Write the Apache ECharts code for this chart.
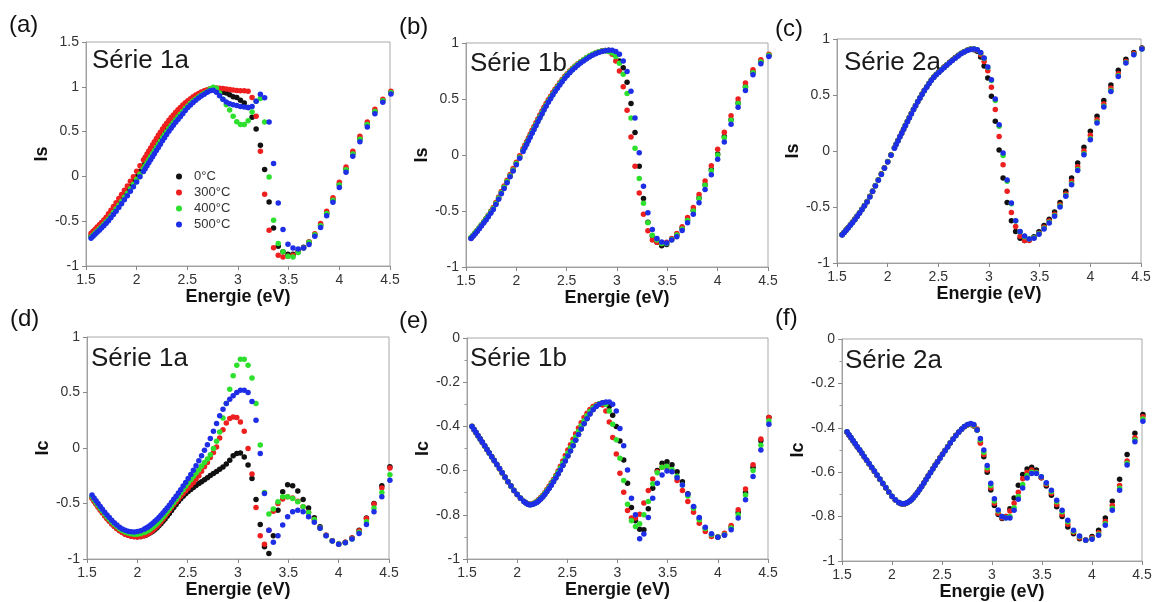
<!DOCTYPE html>
<html><head><meta charset="utf-8">
<script src="https://cdn.jsdelivr.net/npm/echarts@6/dist/echarts.min.js"></script>
<style>html,body{margin:0;padding:0;background:#fff}#c{width:1156px;height:602px}</style>
</head><body><div id="c"></div><script>
// photon energy grid (eV), shared by all panels
const energy = [
1.550,1.570,1.590,1.610,1.632,1.653,1.676,1.699,1.722,1.746,
1.771,1.797,1.824,1.851,1.879,1.908,1.938,1.968,2.000,2.033,
2.067,2.084,2.102,2.120,2.138,2.157,2.175,2.195,2.214,2.234,
2.255,2.275,2.296,2.318,2.340,2.362,2.385,2.408,2.431,2.455,
2.480,2.505,2.531,2.557,2.583,2.611,2.638,2.667,2.696,2.725,
2.756,2.787,2.818,2.851,2.884,2.918,2.952,2.988,3.024,3.062,
3.100,3.139,3.179,3.221,3.263,3.307,3.351,3.397,3.444,3.493,
3.543,3.594,3.647,3.701,3.758,3.815,3.875,3.937,4.000,4.066,
4.133,4.203,4.276,4.351,4.429,4.509];

const seriesNames = ['0°C','300°C','400°C','500°C'];
const panelLetters = ['(a)','(b)','(c)','(d)','(e)','(f)'];
const panelTitles = ['Série 1a','Série 1b','Série 2a','Série 1a','Série 1b','Série 2a'];
const yNames = ['Is','Is','Is','Ic','Ic','Ic'];
const xName = 'Energie (eV)';
const xTicks = [1.5,2,2.5,3,3.5,4,4.5];
const yTicksA = [-1,-0.5,0,0.5,1,1.5];
const yTicksIs = [-1,-0.5,0,0.5,1];
const yTicksIc = [-1,-0.8,-0.6,-0.4,-0.2,0];

// (a) Is, Série 1a
const aBlack = [
-0.663,-0.640,-0.618,-0.595,-0.570,-0.545,-0.519,-0.490,-0.457,-0.420,
-0.382,-0.341,-0.298,-0.254,-0.208,-0.161,-0.111,-0.060,-0.003,0.057,
0.119,0.151,0.185,0.218,0.252,0.287,0.321,0.357,0.391,0.427,
0.464,0.497,0.531,0.565,0.597,0.628,0.660,0.690,0.719,0.748,
0.778,0.807,0.833,0.858,0.880,0.901,0.920,0.937,0.953,0.967,
0.975,0.960,0.950,0.940,0.930,0.910,0.890,0.880,0.850,0.820,
0.770,0.660,0.530,0.347,0.076,-0.286,-0.576,-0.780,-0.840,-0.870,
-0.870,-0.830,-0.790,-0.735,-0.650,-0.545,-0.410,-0.260,-0.090,0.080,
0.255,0.420,0.580,0.725,0.845,0.935];
const aRed = [
-0.635,-0.612,-0.589,-0.566,-0.540,-0.514,-0.487,-0.455,-0.418,-0.378,
-0.337,-0.293,-0.248,-0.202,-0.155,-0.106,-0.055,-0.003,0.057,0.119,
0.183,0.215,0.250,0.284,0.318,0.354,0.388,0.424,0.458,0.494,
0.530,0.562,0.594,0.626,0.656,0.685,0.715,0.743,0.770,0.796,
0.821,0.845,0.868,0.889,0.908,0.926,0.942,0.956,0.968,0.978,
0.985,0.988,0.985,0.980,0.975,0.970,0.965,0.960,0.957,0.955,
0.950,0.880,0.670,0.280,-0.200,-0.600,-0.795,-0.880,-0.900,-0.890,
-0.880,-0.840,-0.800,-0.730,-0.640,-0.527,-0.390,-0.237,-0.066,0.105,
0.280,0.447,0.607,0.749,0.860,0.950];
const aGreen = [
-0.676,-0.654,-0.632,-0.610,-0.585,-0.561,-0.534,-0.507,-0.477,-0.441,
-0.404,-0.364,-0.322,-0.279,-0.234,-0.188,-0.138,-0.088,-0.032,0.026,
0.087,0.118,0.152,0.185,0.218,0.254,0.287,0.323,0.357,0.393,
0.430,0.465,0.499,0.534,0.567,0.599,0.632,0.663,0.693,0.724,
0.757,0.787,0.816,0.842,0.865,0.888,0.908,0.928,0.946,0.975,
0.995,0.985,0.930,0.860,0.800,0.740,0.670,0.610,0.580,0.580,
0.620,0.720,0.840,0.870,0.607,-0.007,-0.490,-0.750,-0.840,-0.890,
-0.900,-0.850,-0.800,-0.735,-0.650,-0.550,-0.415,-0.265,-0.095,0.075,
0.250,0.415,0.580,0.725,0.845,0.935];
const aBlue = [
-0.690,-0.668,-0.646,-0.624,-0.600,-0.576,-0.550,-0.524,-0.496,-0.462,
-0.426,-0.388,-0.347,-0.305,-0.261,-0.215,-0.166,-0.116,-0.062,-0.005,
0.055,0.086,0.119,0.152,0.185,0.220,0.253,0.289,0.323,0.359,
0.397,0.432,0.467,0.503,0.537,0.570,0.604,0.636,0.667,0.700,
0.735,0.768,0.798,0.826,0.851,0.875,0.897,0.918,0.938,0.955,
0.962,0.940,0.900,0.860,0.830,0.810,0.800,0.790,0.780,0.775,
0.770,0.780,0.840,0.916,0.879,0.607,0.143,-0.297,-0.594,-0.758,
-0.800,-0.810,-0.800,-0.760,-0.668,-0.570,-0.440,-0.289,-0.125,0.046,
0.224,0.388,0.551,0.700,0.827,0.920];

// (b) Is, Série 1b
const bBlack = [
-0.742,-0.722,-0.700,-0.678,-0.654,-0.628,-0.601,-0.573,-0.543,-0.512,
-0.478,-0.433,-0.386,-0.338,-0.288,-0.237,-0.185,-0.133,-0.077,-0.018,
0.042,0.073,0.105,0.138,0.170,0.205,0.237,0.273,0.307,0.342,
0.378,0.412,0.445,0.480,0.512,0.544,0.576,0.606,0.635,0.663,
0.691,0.716,0.741,0.765,0.786,0.807,0.826,0.845,0.863,0.879,
0.894,0.907,0.918,0.927,0.933,0.935,0.920,0.890,0.840,0.780,
0.650,0.460,0.200,-0.100,-0.388,-0.600,-0.720,-0.780,-0.810,-0.800,
-0.755,-0.715,-0.655,-0.580,-0.495,-0.385,-0.265,-0.130,0.010,0.165,
0.315,0.465,0.610,0.740,0.835,0.890];
const bRed = [
-0.740,-0.719,-0.697,-0.674,-0.649,-0.623,-0.595,-0.566,-0.535,-0.503,
-0.468,-0.423,-0.375,-0.327,-0.277,-0.226,-0.174,-0.121,-0.065,-0.006,
0.055,0.087,0.119,0.152,0.185,0.220,0.252,0.288,0.322,0.357,
0.392,0.426,0.459,0.493,0.525,0.557,0.588,0.617,0.646,0.674,
0.701,0.726,0.750,0.773,0.794,0.814,0.833,0.851,0.868,0.884,
0.898,0.911,0.922,0.930,0.933,0.925,0.900,0.840,0.750,0.610,
0.400,0.160,-0.100,-0.340,-0.530,-0.677,-0.760,-0.780,-0.790,-0.780,
-0.745,-0.700,-0.640,-0.558,-0.468,-0.352,-0.233,-0.096,0.051,0.203,
0.350,0.499,0.642,0.761,0.850,0.900];
const bGreen = [
-0.736,-0.716,-0.695,-0.673,-0.649,-0.624,-0.598,-0.570,-0.541,-0.510,
-0.477,-0.432,-0.385,-0.337,-0.288,-0.237,-0.185,-0.133,-0.077,-0.019,
0.041,0.072,0.104,0.137,0.169,0.204,0.236,0.272,0.306,0.341,
0.377,0.411,0.445,0.480,0.513,0.545,0.577,0.607,0.636,0.665,
0.693,0.719,0.744,0.768,0.790,0.811,0.831,0.850,0.868,0.885,
0.899,0.911,0.921,0.928,0.930,0.925,0.910,0.880,0.820,0.720,
0.550,0.330,0.060,-0.210,-0.430,-0.606,-0.716,-0.760,-0.790,-0.790,
-0.755,-0.715,-0.660,-0.585,-0.500,-0.390,-0.270,-0.140,0.000,0.155,
0.310,0.460,0.605,0.735,0.830,0.890];
const bBlue = [
-0.746,-0.726,-0.705,-0.683,-0.659,-0.634,-0.608,-0.580,-0.551,-0.520,
-0.487,-0.442,-0.395,-0.347,-0.298,-0.247,-0.195,-0.143,-0.087,-0.029,
0.031,0.062,0.094,0.127,0.159,0.194,0.226,0.262,0.296,0.331,
0.367,0.401,0.435,0.470,0.503,0.535,0.567,0.597,0.626,0.655,
0.683,0.709,0.734,0.758,0.780,0.801,0.821,0.840,0.858,0.875,
0.890,0.903,0.915,0.924,0.931,0.935,0.935,0.925,0.900,0.840,
0.745,0.570,0.330,0.020,-0.278,-0.516,-0.666,-0.746,-0.776,-0.785,
-0.760,-0.730,-0.675,-0.606,-0.528,-0.427,-0.307,-0.176,-0.039,0.116,
0.275,0.427,0.576,0.716,0.815,0.880];

// (c) Is, Série 2a
const cBlack = [
-0.745,-0.725,-0.704,-0.683,-0.659,-0.635,-0.608,-0.580,-0.551,-0.519,
-0.486,-0.450,-0.405,-0.357,-0.308,-0.257,-0.204,-0.150,-0.093,-0.033,
0.030,0.062,0.095,0.129,0.162,0.197,0.230,0.266,0.300,0.336,
0.373,0.407,0.442,0.476,0.510,0.542,0.574,0.605,0.635,0.661,
0.685,0.707,0.728,0.749,0.770,0.792,0.813,0.834,0.854,0.873,
0.889,0.902,0.910,0.905,0.890,0.840,0.760,0.652,0.488,0.265,
0.010,-0.240,-0.459,-0.622,-0.718,-0.780,-0.800,-0.790,-0.765,-0.720,
-0.665,-0.610,-0.545,-0.459,-0.360,-0.240,-0.107,0.033,0.176,0.310,
0.452,0.590,0.720,0.820,0.880,0.920];
const cRed = [
-0.747,-0.727,-0.706,-0.685,-0.661,-0.637,-0.610,-0.582,-0.553,-0.521,
-0.488,-0.452,-0.407,-0.359,-0.310,-0.259,-0.206,-0.152,-0.095,-0.035,
0.028,0.060,0.093,0.127,0.160,0.195,0.228,0.264,0.298,0.334,
0.371,0.405,0.440,0.474,0.508,0.540,0.572,0.603,0.633,0.659,
0.683,0.705,0.726,0.747,0.768,0.790,0.811,0.832,0.852,0.871,
0.887,0.900,0.908,0.910,0.900,0.860,0.800,0.717,0.570,0.370,
0.130,-0.122,-0.360,-0.548,-0.673,-0.762,-0.800,-0.800,-0.775,-0.735,
-0.680,-0.625,-0.565,-0.480,-0.385,-0.270,-0.140,0.000,0.140,0.280,
0.420,0.560,0.690,0.800,0.870,0.915];
const cGreen = [
-0.748,-0.728,-0.707,-0.686,-0.662,-0.638,-0.611,-0.583,-0.554,-0.522,
-0.489,-0.453,-0.408,-0.360,-0.311,-0.260,-0.207,-0.153,-0.096,-0.036,
0.027,0.059,0.092,0.126,0.159,0.194,0.227,0.263,0.297,0.333,
0.370,0.404,0.439,0.473,0.507,0.539,0.571,0.602,0.632,0.658,
0.682,0.704,0.725,0.746,0.767,0.789,0.810,0.831,0.851,0.870,
0.886,0.899,0.908,0.912,0.905,0.875,0.825,0.745,0.630,0.450,
0.220,-0.040,-0.270,-0.470,-0.625,-0.720,-0.765,-0.785,-0.775,-0.738,
-0.690,-0.636,-0.575,-0.492,-0.397,-0.292,-0.165,-0.025,0.110,0.258,
0.400,0.540,0.672,0.790,0.862,0.910];
const cBlue = [
-0.750,-0.730,-0.709,-0.688,-0.664,-0.640,-0.613,-0.585,-0.556,-0.524,
-0.491,-0.455,-0.410,-0.362,-0.313,-0.262,-0.209,-0.155,-0.098,-0.038,
0.025,0.057,0.090,0.124,0.157,0.192,0.225,0.261,0.295,0.331,
0.368,0.402,0.437,0.471,0.505,0.537,0.569,0.600,0.630,0.656,
0.680,0.702,0.723,0.744,0.765,0.787,0.808,0.829,0.849,0.868,
0.884,0.897,0.906,0.911,0.905,0.880,0.830,0.750,0.637,0.464,
0.235,-0.018,-0.260,-0.464,-0.622,-0.718,-0.760,-0.785,-0.780,-0.743,
-0.697,-0.643,-0.583,-0.500,-0.405,-0.301,-0.173,-0.033,0.101,0.250,
0.393,0.532,0.666,0.786,0.860,0.910];

// (d) Ic, Série 1a
const dBlack = [
-0.445,-0.472,-0.499,-0.525,-0.553,-0.579,-0.606,-0.632,-0.657,-0.681,
-0.704,-0.725,-0.744,-0.760,-0.774,-0.785,-0.793,-0.798,-0.800,-0.798,
-0.790,-0.785,-0.778,-0.769,-0.759,-0.747,-0.734,-0.718,-0.701,-0.682,
-0.661,-0.639,-0.615,-0.590,-0.564,-0.537,-0.510,-0.483,-0.458,-0.434,
-0.412,-0.392,-0.373,-0.355,-0.338,-0.320,-0.303,-0.285,-0.267,-0.248,
-0.230,-0.212,-0.192,-0.172,-0.145,-0.110,-0.070,-0.050,-0.044,-0.080,
-0.154,-0.274,-0.463,-0.690,-0.890,-0.950,-0.790,-0.560,-0.394,-0.330,
-0.340,-0.388,-0.463,-0.540,-0.628,-0.710,-0.785,-0.835,-0.865,-0.850,
-0.810,-0.740,-0.630,-0.500,-0.340,-0.170];
const dRed = [
-0.455,-0.481,-0.507,-0.533,-0.560,-0.586,-0.612,-0.637,-0.661,-0.684,
-0.706,-0.727,-0.746,-0.762,-0.776,-0.787,-0.795,-0.800,-0.802,-0.799,
-0.790,-0.783,-0.775,-0.765,-0.753,-0.739,-0.724,-0.706,-0.687,-0.665,
-0.641,-0.617,-0.590,-0.563,-0.536,-0.510,-0.485,-0.460,-0.435,-0.410,
-0.385,-0.360,-0.335,-0.310,-0.280,-0.250,-0.210,-0.170,-0.130,-0.085,
-0.040,0.010,0.090,0.165,0.225,0.265,0.280,0.275,0.235,0.150,
-0.004,-0.235,-0.535,-0.790,-0.868,-0.740,-0.570,-0.500,-0.460,-0.440,
-0.450,-0.480,-0.530,-0.580,-0.645,-0.720,-0.785,-0.835,-0.865,-0.850,
-0.810,-0.745,-0.635,-0.505,-0.360,-0.180];
const dGreen = [
-0.438,-0.464,-0.490,-0.516,-0.543,-0.568,-0.594,-0.619,-0.643,-0.666,
-0.688,-0.708,-0.727,-0.743,-0.756,-0.766,-0.773,-0.777,-0.777,-0.772,
-0.762,-0.755,-0.746,-0.736,-0.724,-0.711,-0.697,-0.680,-0.662,-0.642,
-0.620,-0.597,-0.573,-0.547,-0.520,-0.492,-0.463,-0.434,-0.404,-0.375,
-0.345,-0.315,-0.285,-0.255,-0.225,-0.195,-0.163,-0.130,-0.100,-0.060,
-0.005,0.060,0.145,0.270,0.400,0.530,0.650,0.745,0.800,0.800,
0.745,0.630,0.400,0.026,-0.400,-0.595,-0.550,-0.485,-0.440,-0.440,
-0.455,-0.485,-0.530,-0.580,-0.645,-0.720,-0.790,-0.838,-0.865,-0.853,
-0.820,-0.760,-0.665,-0.540,-0.400,-0.240];
const dBlue = [
-0.424,-0.450,-0.476,-0.501,-0.527,-0.552,-0.578,-0.603,-0.627,-0.651,
-0.673,-0.694,-0.713,-0.729,-0.741,-0.750,-0.755,-0.756,-0.753,-0.745,
-0.732,-0.724,-0.714,-0.703,-0.690,-0.676,-0.661,-0.644,-0.626,-0.606,
-0.585,-0.563,-0.540,-0.515,-0.489,-0.462,-0.434,-0.405,-0.375,-0.343,
-0.310,-0.275,-0.238,-0.200,-0.160,-0.115,-0.070,-0.020,0.030,0.085,
0.150,0.220,0.290,0.350,0.400,0.440,0.470,0.500,0.520,0.520,
0.500,0.420,0.250,-0.050,-0.410,-0.740,-0.850,-0.790,-0.694,-0.620,
-0.575,-0.560,-0.575,-0.620,-0.670,-0.724,-0.790,-0.838,-0.868,-0.853,
-0.820,-0.770,-0.690,-0.575,-0.440,-0.290];

// (e) Ic, Série 1b
const eBlack = [
-0.399,-0.413,-0.427,-0.441,-0.456,-0.471,-0.487,-0.503,-0.519,-0.536,
-0.553,-0.571,-0.590,-0.609,-0.629,-0.649,-0.669,-0.689,-0.707,-0.724,
-0.739,-0.745,-0.750,-0.753,-0.753,-0.751,-0.748,-0.743,-0.736,-0.728,
-0.718,-0.707,-0.694,-0.680,-0.665,-0.649,-0.632,-0.614,-0.596,-0.576,
-0.555,-0.533,-0.510,-0.486,-0.462,-0.436,-0.411,-0.387,-0.364,-0.343,
-0.324,-0.309,-0.299,-0.293,-0.295,-0.310,-0.350,-0.400,-0.466,-0.552,
-0.657,-0.767,-0.827,-0.865,-0.868,-0.773,-0.680,-0.600,-0.567,-0.560,
-0.574,-0.605,-0.650,-0.705,-0.765,-0.818,-0.860,-0.890,-0.900,-0.890,
-0.855,-0.790,-0.700,-0.585,-0.465,-0.360];
const eRed = [
-0.402,-0.416,-0.430,-0.444,-0.459,-0.474,-0.490,-0.506,-0.522,-0.539,
-0.556,-0.574,-0.593,-0.612,-0.632,-0.652,-0.672,-0.691,-0.709,-0.726,
-0.740,-0.746,-0.750,-0.752,-0.752,-0.749,-0.745,-0.739,-0.731,-0.722,
-0.711,-0.700,-0.686,-0.671,-0.655,-0.640,-0.622,-0.602,-0.580,-0.556,
-0.532,-0.507,-0.483,-0.458,-0.433,-0.407,-0.383,-0.360,-0.340,-0.323,
-0.310,-0.302,-0.300,-0.303,-0.330,-0.380,-0.450,-0.525,-0.612,-0.698,
-0.780,-0.815,-0.815,-0.797,-0.747,-0.690,-0.638,-0.605,-0.585,-0.583,
-0.603,-0.645,-0.690,-0.740,-0.788,-0.838,-0.876,-0.898,-0.900,-0.883,
-0.848,-0.777,-0.683,-0.574,-0.457,-0.360];
const eGreen = [
-0.401,-0.415,-0.429,-0.443,-0.458,-0.473,-0.489,-0.505,-0.521,-0.538,
-0.555,-0.573,-0.592,-0.611,-0.631,-0.651,-0.671,-0.690,-0.708,-0.725,
-0.740,-0.746,-0.750,-0.753,-0.753,-0.750,-0.747,-0.741,-0.734,-0.725,
-0.715,-0.704,-0.690,-0.676,-0.660,-0.645,-0.627,-0.608,-0.588,-0.566,
-0.544,-0.520,-0.497,-0.472,-0.448,-0.422,-0.397,-0.374,-0.352,-0.333,
-0.317,-0.306,-0.298,-0.295,-0.300,-0.330,-0.390,-0.460,-0.544,-0.645,
-0.752,-0.827,-0.853,-0.840,-0.800,-0.740,-0.660,-0.610,-0.585,-0.580,
-0.595,-0.625,-0.665,-0.715,-0.770,-0.822,-0.862,-0.890,-0.900,-0.890,
-0.860,-0.800,-0.710,-0.600,-0.485,-0.375];
const eBlue = [
-0.400,-0.414,-0.428,-0.442,-0.457,-0.472,-0.488,-0.504,-0.520,-0.537,
-0.554,-0.572,-0.591,-0.610,-0.630,-0.650,-0.670,-0.690,-0.708,-0.725,
-0.740,-0.746,-0.751,-0.754,-0.754,-0.752,-0.749,-0.744,-0.737,-0.729,
-0.719,-0.708,-0.695,-0.681,-0.666,-0.650,-0.633,-0.615,-0.597,-0.577,
-0.556,-0.534,-0.511,-0.487,-0.463,-0.437,-0.412,-0.388,-0.365,-0.344,
-0.325,-0.310,-0.300,-0.293,-0.290,-0.290,-0.300,-0.330,-0.409,-0.487,
-0.597,-0.725,-0.800,-0.908,-0.887,-0.812,-0.725,-0.657,-0.620,-0.602,
-0.605,-0.632,-0.665,-0.707,-0.762,-0.812,-0.856,-0.886,-0.902,-0.893,
-0.868,-0.815,-0.732,-0.627,-0.507,-0.390];

// (f) Ic, Série 2a
const fBlack = [
-0.420,-0.433,-0.446,-0.459,-0.473,-0.487,-0.501,-0.516,-0.531,-0.547,
-0.563,-0.580,-0.597,-0.615,-0.633,-0.652,-0.671,-0.690,-0.709,-0.725,
-0.737,-0.741,-0.743,-0.743,-0.741,-0.737,-0.731,-0.724,-0.714,-0.703,
-0.691,-0.677,-0.663,-0.648,-0.632,-0.616,-0.600,-0.584,-0.568,-0.552,
-0.535,-0.518,-0.501,-0.484,-0.467,-0.450,-0.434,-0.419,-0.405,-0.394,
-0.386,-0.384,-0.392,-0.410,-0.463,-0.530,-0.600,-0.680,-0.750,-0.790,
-0.809,-0.800,-0.765,-0.716,-0.659,-0.610,-0.586,-0.578,-0.590,-0.625,
-0.662,-0.704,-0.756,-0.800,-0.847,-0.877,-0.900,-0.905,-0.890,-0.862,
-0.806,-0.731,-0.632,-0.520,-0.425,-0.340];
const fRed = [
-0.419,-0.432,-0.445,-0.458,-0.472,-0.486,-0.500,-0.515,-0.530,-0.546,
-0.562,-0.579,-0.596,-0.614,-0.632,-0.651,-0.670,-0.690,-0.709,-0.725,
-0.737,-0.741,-0.743,-0.743,-0.741,-0.736,-0.731,-0.723,-0.714,-0.703,
-0.691,-0.678,-0.664,-0.649,-0.633,-0.617,-0.601,-0.585,-0.569,-0.553,
-0.536,-0.519,-0.502,-0.485,-0.468,-0.451,-0.435,-0.420,-0.406,-0.395,
-0.387,-0.385,-0.390,-0.405,-0.470,-0.520,-0.590,-0.670,-0.740,-0.785,
-0.805,-0.800,-0.775,-0.740,-0.690,-0.630,-0.600,-0.590,-0.600,-0.625,
-0.655,-0.695,-0.745,-0.790,-0.835,-0.870,-0.895,-0.905,-0.895,-0.873,
-0.822,-0.750,-0.660,-0.550,-0.445,-0.350];
const fGreen = [
-0.418,-0.431,-0.444,-0.457,-0.471,-0.485,-0.499,-0.514,-0.529,-0.545,
-0.561,-0.578,-0.595,-0.613,-0.631,-0.650,-0.669,-0.689,-0.708,-0.724,
-0.736,-0.740,-0.742,-0.742,-0.740,-0.736,-0.731,-0.724,-0.715,-0.704,
-0.692,-0.679,-0.665,-0.650,-0.634,-0.618,-0.602,-0.586,-0.570,-0.554,
-0.537,-0.520,-0.503,-0.486,-0.469,-0.452,-0.436,-0.420,-0.406,-0.394,
-0.386,-0.382,-0.387,-0.410,-0.455,-0.510,-0.580,-0.660,-0.730,-0.775,
-0.800,-0.805,-0.800,-0.760,-0.710,-0.655,-0.615,-0.600,-0.603,-0.620,
-0.650,-0.687,-0.733,-0.778,-0.823,-0.866,-0.890,-0.906,-0.900,-0.880,
-0.832,-0.762,-0.672,-0.560,-0.455,-0.360];
const fBlue = [
-0.418,-0.431,-0.444,-0.457,-0.471,-0.485,-0.499,-0.514,-0.529,-0.545,
-0.561,-0.578,-0.595,-0.613,-0.631,-0.650,-0.669,-0.689,-0.708,-0.724,
-0.736,-0.740,-0.742,-0.742,-0.740,-0.736,-0.731,-0.724,-0.715,-0.704,
-0.692,-0.679,-0.665,-0.650,-0.634,-0.618,-0.602,-0.586,-0.570,-0.554,
-0.537,-0.520,-0.503,-0.486,-0.469,-0.452,-0.436,-0.420,-0.406,-0.394,
-0.385,-0.381,-0.385,-0.410,-0.448,-0.500,-0.570,-0.650,-0.720,-0.770,
-0.800,-0.806,-0.806,-0.771,-0.722,-0.671,-0.626,-0.606,-0.606,-0.621,
-0.647,-0.681,-0.726,-0.771,-0.816,-0.862,-0.887,-0.907,-0.902,-0.884,
-0.839,-0.771,-0.681,-0.568,-0.463,-0.370];

const FONT = "'Liberation Sans', Arial, Helvetica, sans-serif";
const colors = ['#111111', '#ee1f1f', '#2ee02e', '#1e2ee6'];

const panels = [
  {data:[aBlack,aRed,aGreen,aBlue], grid:{left:86, top:42, width:304, height:224}, yMin:-1, yMax:1.5, yInt:0.5, yTicks:yTicksA, minor:false, letter:[9,13], title:[92,48]},
  {data:[bBlack,bRed,bGreen,bBlue], grid:{left:466, top:43, width:302, height:224}, yMin:-1, yMax:1, yInt:0.5, yTicks:yTicksIs, minor:false, letter:[399,15], title:[470,51]},
  {data:[cBlack,cRed,cGreen,cBlue], grid:{left:837, top:39, width:304, height:224}, yMin:-1, yMax:1, yInt:0.5, yTicks:yTicksIs, minor:false, letter:[775,17], title:[844,50]},
  {data:[dBlack,dRed,dGreen,dBlue], grid:{left:87, top:337, width:302, height:222}, yMin:-1, yMax:1, yInt:0.5, yTicks:yTicksIs, minor:false, letter:[10,307], title:[91,346]},
  {data:[eBlack,eRed,eGreen,eBlue], grid:{left:467, top:338, width:301, height:221}, yMin:-1, yMax:0, yInt:0.2, yTicks:yTicksIc, minor:true, letter:[399,309], title:[470,346]},
  {data:[fBlack,fRed,fGreen,fBlue], grid:{left:842, top:339, width:300, height:222}, yMin:-1, yMax:0, yInt:0.2, yTicks:yTicksIc, minor:true, letter:[775,306], title:[845,348]}
];

const grids = [], xAxes = [], yAxes = [], series = [], graphics = [];
panels.forEach((p, i) => {
  grids.push(Object.assign({show:true, borderColor:'#a8a8a8', borderWidth:1, backgroundColor:'rgba(0,0,0,0)'}, p.grid));
  xAxes.push({
    type:'value', gridIndex:i, min:1.5, max:4.5, interval:0.5,
    axisLine:{show:true, onZero:false, lineStyle:{color:'#a0a0a0', width:1}},
    axisTick:{show:true, inside:false, length:4, lineStyle:{color:'#888'}, customValues:xTicks},
    axisLabel:{color:'#333', fontSize:14, fontFamily:FONT, margin:7, customValues:xTicks},
    splitLine:{show:false},
    name:xName, nameLocation:'middle', nameGap:21,
    nameTextStyle:{fontFamily:FONT, fontWeight:'bold', fontSize:18, color:'#111'}
  });
  yAxes.push({
    type:'value', gridIndex:i, min:p.yMin, max:p.yMax, interval:p.yInt,
    axisLine:{show:true, onZero:false, lineStyle:{color:'#a0a0a0', width:1}},
    axisTick:{show:true, inside:false, length:4, lineStyle:{color:'#888'}, customValues:p.yTicks},
    minorTick:{show:p.minor, splitNumber:2, length:2.5, lineStyle:{color:'#999'}},
    axisLabel:{color:'#333', fontSize:14, fontFamily:FONT, margin:7, customValues:p.yTicks},
    splitLine:{show:false},
    name:yNames[i], nameLocation:'middle', nameRotate:90, nameGap:34,
    nameTextStyle:{fontFamily:FONT, fontWeight:'bold', fontSize:18, color:'#111'}
  });
  p.data.forEach((arr, j) => {
    series.push({
      type:'scatter', name:seriesNames[j], xAxisIndex:i, yAxisIndex:i,
      data: energy.map((e, k) => [e, arr[k]]),
      symbol:'circle', symbolSize:5.5, clip:false,
      itemStyle:{color:colors[j], opacity:1},
      z: 2 + j, emphasis:{disabled:true}, animation:false
    });
  });
  graphics.push({type:'text', left:p.letter[0], top:p.letter[1], silent:true,
    style:{text:panelLetters[i], font:'24px ' + FONT, fill:'#111'}});
  graphics.push({type:'text', left:p.title[0], top:p.title[1], silent:true,
    style:{text:panelTitles[i], font:'26px ' + FONT, fill:'#1a1a1a'}});
});

const chart = echarts.init(document.getElementById('c'), null, {renderer:'canvas'});
chart.setOption({
  backgroundColor:'#fff',
  animation:false,
  textStyle:{fontFamily:FONT},
  grid:grids, xAxis:xAxes, yAxis:yAxes, series:series,
  legend:{
    data: seriesNames, orient:'vertical', left:171, top:165,
    itemWidth:20, itemHeight:6, itemGap:3, icon:'circle',
    textStyle:{fontSize:13, color:'#333', fontFamily:FONT, lineHeight:13}
  },
  graphic:graphics
});
</script></body></html>
